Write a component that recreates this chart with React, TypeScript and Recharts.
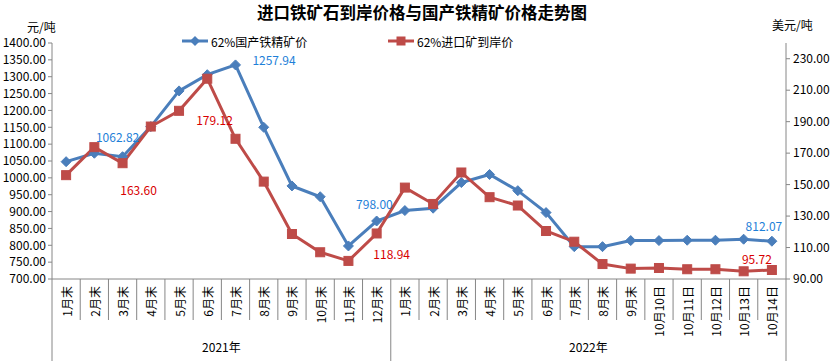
import React from "react";
import { LineChart, Line, XAxis, YAxis, Legend } from "recharts";

// ---- data ----
const categories = [
  "1月末", "2月末", "3月末", "4月末", "5月末", "6月末", "7月末", "8月末", "9月末", "10月末", "11月末", "12月末",
  "1月末", "2月末", "3月末", "4月末", "5月末", "6月末", "7月末", "8月末", "9月末",
  "10月10日", "10月11日", "10月12日", "10月13日", "10月14日",
];
const yearLabels = ["2021年", "2022年"];
const yearSpans = [12, 14];
// 62%国产铁精矿价 (元/吨, left axis)
const domesticPrice = [
  1048, 1073, 1062.82, 1152, 1257.94, 1306, 1335, 1150, 976, 944, 798.0, 872,
  903, 910, 986, 1010, 962, 897, 796, 796, 814, 814, 815, 815, 818, 812.07,
];
// 62%进口矿到岸价 (美元/吨, right axis)
const importPrice = [
  156, 173.8, 163.6, 186.9, 196.9, 217.3, 179.12, 151.9, 118.6, 107, 101.5, 118.94,
  148.1, 137.7, 157.7, 142, 136.7, 120.5, 113.7, 99.5, 96.6, 97, 96.2, 96.2, 94.9, 95.72,
];
const leftTicks = [700, 750, 800, 850, 900, 950, 1000, 1050, 1100, 1150, 1200, 1250, 1300, 1350, 1400];
const rightTicks = [90, 110, 130, 150, 170, 190, 210, 230];

const data = categories.map((c, i) => ({ cat: c, domestic: domesticPrice[i], imported: importPrice[i] }));

// ---- layout ----
const W = 831, H = 361;
const PLOT_LEFT = 52, PLOT_RIGHT = 786, PLOT_TOP = 43, PLOT_BOTTOM = 279;
const BW = (PLOT_RIGHT - PLOT_LEFT) / categories.length;
const FONT = "'Noto Sans CJK SC', 'Liberation Sans', sans-serif";
const BLUE = "#4A7EBB", RED = "#BE4B48", AXIS = "#868686";
const BLUE_TXT = "#1E80D8", RED_TXT = "#D80000";

// label offsets relative to the point, keyed by point index
const blueLabelPos: Record<number, [number, number]> = { 2: [-5, -20], 4: [95, -31], 10: [26, -42], 25: [-8, -16] };
const redLabelPos: Record<number, [number, number]> = { 2: [16, 26], 6: [-21, -19], 11: [15, 20], 25: [-15, -12] };

const groupStarts = yearSpans.map((_, i) => yearSpans.slice(0, i).reduce((a, b) => a + b, 0));

function CatTick(props: any) {
  const { x, payload, index } = props;
  const cx = x;
  const gi = groupStarts.indexOf(index);
  const isLast = index === categories.length - 1;
  const ty = PLOT_BOTTOM + 7;
  return (
    <g>
      <line x1={cx - BW / 2} x2={cx - BW / 2} y1={PLOT_BOTTOM} y2={gi >= 0 ? H : 320} stroke={AXIS} strokeWidth={1} />
      {isLast && <line x1={cx + BW / 2} x2={cx + BW / 2} y1={PLOT_BOTTOM} y2={H} stroke={AXIS} strokeWidth={1} />}
      <text x={cx} y={ty} transform={`rotate(-90, ${cx}, ${ty})`} textAnchor="end" dominantBaseline="central"
        fontSize={12} fill="#000" fontFamily={FONT}>{payload.value}</text>
      {gi >= 0 && (
        <text x={PLOT_LEFT + (groupStarts[gi] + yearSpans[gi] / 2) * BW} y={352} textAnchor="middle"
          fontSize={12} fill="#000" fontFamily={FONT}>{yearLabels[gi]}</text>
      )}
    </g>
  );
}

function makeDot(kind: "diamond" | "square", labels: Record<number, [number, number]>, color: string, txt: string) {
  return (p: any) => {
    const { cx, cy, index, value } = p;
    const pos = labels[index];
    return (
      <g key={`${kind}-${index}`}>
        {kind === "diamond" ? (
          <path d={`M${cx},${cy - 5} L${cx + 5},${cy} L${cx},${cy + 5} L${cx - 5},${cy} Z`} fill={color} stroke={color} />
        ) : (
          <rect x={cx - 4.5} y={cy - 4.5} width={9} height={9} fill={color} stroke={color} />
        )}
        {pos && (
          <text x={cx + pos[0]} y={cy + pos[1]} textAnchor="middle" dominantBaseline="central"
            fontSize={12} fill={txt} fontFamily={FONT}>{Number(value).toFixed(2)}</text>
        )}
      </g>
    );
  };
}

function LegendBox() {
  return (
    <svg width={W} height={18} style={{ display: "block" }}>
      <line x1={182} x2={208} y1={9} y2={9} stroke={BLUE} strokeWidth={3} />
      <path d="M195,4 L200,9 L195,14 L190,9 Z" fill={BLUE} />
      <text x={211} y={9} dominantBaseline="central" fontSize={12} fontFamily={FONT} fill="#000">62%国产铁精矿价</text>
      <line x1={388} x2={414} y1={9} y2={9} stroke={RED} strokeWidth={3} />
      <rect x={396.5} y={4.5} width={9} height={9} fill={RED} />
      <text x={417} y={9} dominantBaseline="central" fontSize={12} fontFamily={FONT} fill="#000">62%进口矿到岸价</text>
    </svg>
  );
}

export default function App() {
  return (
    <div style={{ position: "absolute", left: 0, top: 0, width: W, height: H, background: "#fff", fontFamily: FONT }}>
      <div style={{ position: "absolute", left: 257, top: 0, whiteSpace: "nowrap", fontSize: 16.5, fontWeight: 700, color: "#000" }}>
        进口铁矿石到岸价格与国产铁精矿价格走势图
      </div>
      <div style={{ position: "absolute", left: 27, top: 18, fontSize: 12, color: "#000" }}>元/吨</div>
      <div style={{ position: "absolute", left: 772, top: 16, fontSize: 12, color: "#000" }}>美元/吨</div>
      <LineChart width={W} height={H} data={data} margin={{ top: PLOT_TOP, right: 0, bottom: 0, left: 0 }}>
        <XAxis dataKey="cat" interval={0} height={H - PLOT_BOTTOM} tick={<CatTick />} tickLine={false}
          padding={{ left: BW / 2, right: BW / 2 }} axisLine={{ stroke: AXIS }} />
        <YAxis yAxisId="l" orientation="left" width={PLOT_LEFT} domain={[700, 1400]} ticks={leftTicks} interval={0}
          tickFormatter={(v: number) => v.toFixed(2)} axisLine={{ stroke: AXIS }} tickLine={{ stroke: AXIS }} tickSize={4}
          tickMargin={2} tick={{ fontSize: 12, fill: "#000", fontFamily: FONT }} />
        <YAxis yAxisId="r" orientation="right" width={W - PLOT_RIGHT} domain={[90, 240]} ticks={rightTicks} interval={0}
          tickFormatter={(v: number) => v.toFixed(2)} axisLine={{ stroke: AXIS }} tickLine={{ stroke: AXIS }} tickSize={4}
          tickMargin={3} tick={{ fontSize: 12, fill: "#000", fontFamily: FONT }} />
        <Legend verticalAlign="middle" align="center" layout="horizontal" content={<LegendBox />}
          wrapperStyle={{ top: 32, left: 0, width: W }} />
        <Line yAxisId="l" dataKey="domestic" name="62%国产铁精矿价" stroke={BLUE} strokeWidth={3}
          dot={makeDot("diamond", blueLabelPos, BLUE, BLUE_TXT)} activeDot={false} isAnimationActive={false} />
        <Line yAxisId="r" dataKey="imported" name="62%进口矿到岸价" stroke={RED} strokeWidth={3}
          dot={makeDot("square", redLabelPos, RED, RED_TXT)} activeDot={false} isAnimationActive={false} />
      </LineChart>
    </div>
  );
}
